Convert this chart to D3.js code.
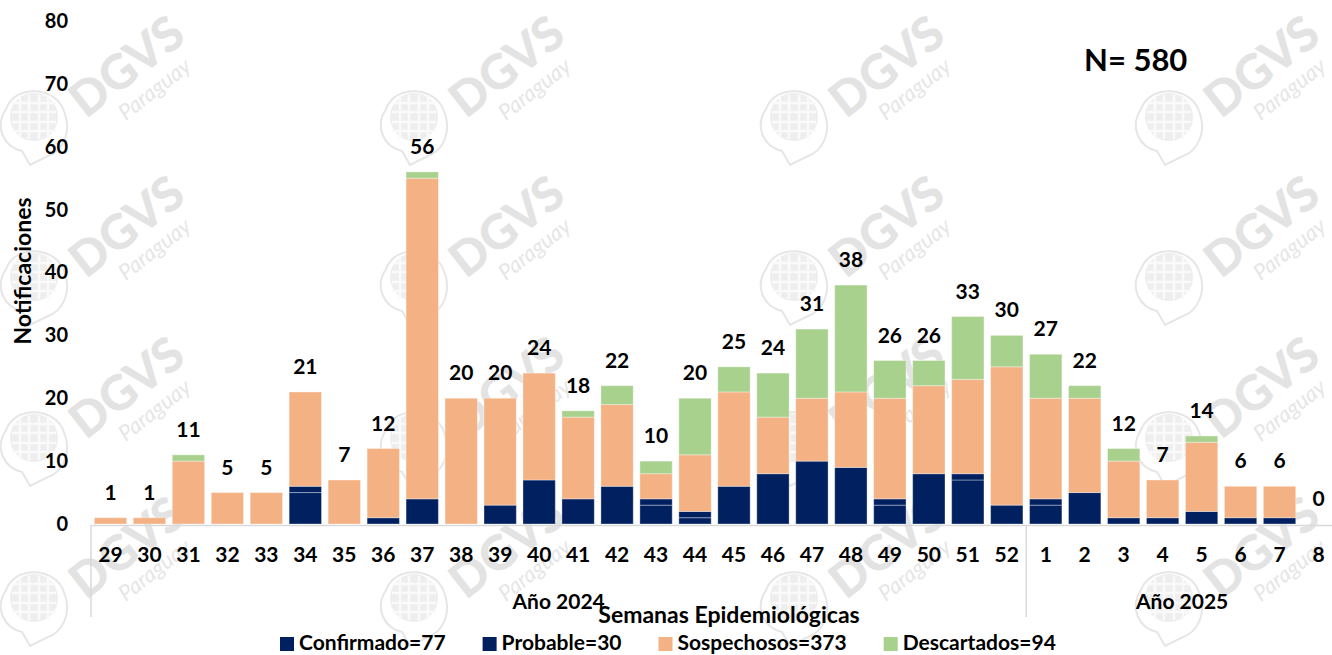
<!DOCTYPE html>
<html lang="es">
<head>
<meta charset="utf-8">
<title>Notificaciones por semana epidemiológica</title>
<script src="https://d3js.org/d3.v7.min.js"></script>
<style>
  html, body { margin: 0; padding: 0; background: #fff; }
  svg text { font-family: Lato, "Open Sans", sans-serif; font-weight: bold; fill: #000; }
</style>
</head>
<body>
<div id="chart"></div>
<script>
// weeks (2024: 29-52, 2025: 1-8)
var weeks = ["29","30","31","32","33","34","35","36","37","38","39","40","41","42","43","44",
             "45","46","47","48","49","50","51","52","1","2","3","4","5","6","7","8"];

// values
var confirmado  = [0,0,0,0,0,5,0,1,4,0,3,7,4,6,3,1,6,8,0,0,3,8,7,3,3,0,1,1,2,1,1,0];
var probable    = [0,0,0,0,0,1,0,0,0,0,0,0,0,0,1,1,0,0,10,9,1,0,1,0,1,5,0,0,0,0,0,0];
var sospechosos = [1,1,10,5,5,15,7,11,51,20,17,17,13,13,4,9,15,9,10,12,16,14,15,22,16,15,9,6,11,5,5,0];
var descartados = [0,0,1,0,0,0,0,0,1,0,0,0,1,3,2,9,4,7,11,17,6,4,10,5,7,2,2,0,1,0,0,0];

var seriesNames  = ["Confirmado", "Probable", "Sospechosos", "Descartados"];
var legendCounts = [77, 30, 373, 94];
var seriesColors = ["#002060", "#002060", "#F4B183", "#A9D18E"];

var yTicks = [0, 10, 20, 30, 40, 50, 60, 70, 80];
var years = ["Año 2024", "Año 2025"];
var yearFirst = ["29", "1"];
var yearLast = ["52", "8"];

var W = 1332, H = 655;

var svg = d3.select("#chart").append("svg")
    .attr("width", W)
    .attr("height", H);

// scales
var x = d3.scaleBand()
    .domain(weeks)
    .range([91, 1338])
    .paddingInner(0.17)
    .paddingOuter(0.085);

var y = d3.scaleLinear()
    .domain([0, 80])
    .range([524, 21]);

// watermark tiles (DGVS Paraguay), drawn behind everything
var wm = svg.append("g").attr("class", "watermark");
var wmCols = [127, 507, 887, 1262];
var wmRows = [67, 227, 388, 548];
wmRows.forEach(function(cy) {
  wmCols.forEach(function(cx) {
    var t = wm.append("g").attr("transform", "translate(" + cx + "," + cy + ")");
    // globe
    var gl = t.append("g").attr("transform", "translate(-93,50)");
    gl.append("path")
      .attr("d", "M-28,-8 C-40,10 -30,30 -12,34 L-4,48 L12,40 C30,34 38,14 30,-6 C22,-30 -18,-34 -28,-8 Z")
      .attr("fill", "none").attr("stroke", "#e6e6e6").attr("stroke-width", 2);
    gl.append("circle").attr("r", 24).attr("fill", "#eeeeee");
    [-14, -5, 5, 14].forEach(function(o) {
      gl.append("line").attr("x1", o).attr("x2", o).attr("y1", -22).attr("y2", 22)
        .attr("stroke", "#fafafa").attr("stroke-width", 2.5);
      gl.append("line").attr("y1", o).attr("y2", o).attr("x1", -22).attr("x2", 22)
        .attr("stroke", "#fafafa").attr("stroke-width", 2.5);
    });
    var tx = t.append("g").attr("transform", "rotate(-38)");
    tx.append("text")
      .attr("text-anchor", "middle")
      .attr("y", 16)
      .style("font-size", "48px")
      .style("font-weight", "900")
      .style("fill", "#e3e3e3")
      .text("DGVS");
    tx.append("text")
      .attr("text-anchor", "middle")
      .attr("x", 8)
      .attr("y", 42)
      .style("font-size", "22px")
      .style("font-weight", "normal")
      .style("font-style", "italic")
      .style("fill", "#e6e6e6")
      .text("Paraguay");
  });
});

// y axis (labels only)
var yAxis = svg.append("g")
    .attr("transform", "translate(68,0)")
    .call(d3.axisLeft(y).tickValues(yTicks).tickSize(0).tickPadding(0));
yAxis.select(".domain").remove();
yAxis.selectAll("text").style("font-size", "20px").style("font-family", "Lato, sans-serif");

// y axis title
svg.append("text")
    .attr("transform", "translate(22,271) rotate(-90)")
    .attr("text-anchor", "middle")
    .attr("dominant-baseline", "central")
    .style("font-size", "23px")
    .text("Notificaciones");

// stacked data
var rows = weeks.map(function(w, i) {
  return { week: w, Confirmado: confirmado[i], Probable: probable[i],
           Sospechosos: sospechosos[i], Descartados: descartados[i] };
});
var stacked = d3.stack().keys(seriesNames)(rows);

svg.append("g").selectAll("g")
  .data(stacked)
  .enter().append("g")
    .attr("fill", function(d, i) { return seriesColors[i]; })
  .selectAll("rect")
  .data(function(d) { return d; })
  .enter().append("rect")
    .filter(function(d) { return d[1] > d[0]; })
    .attr("x", function(d) { return x(d.data.week); })
    .attr("y", function(d) { return y(d[1]); })
    .attr("width", x.bandwidth())
    .attr("height", function(d) { return y(d[0]) - y(d[1]); })
    .attr("stroke", "rgba(255,255,255,0.35)")
    .attr("stroke-width", 1);

// x axis
var xAxis = svg.append("g")
    .attr("transform", "translate(0,525)")
    .call(d3.axisBottom(x).tickSize(0).tickSizeOuter(0).tickPadding(22));
xAxis.select(".domain").attr("stroke", "#d9d9d9").attr("stroke-width", 1.5);
xAxis.selectAll("text").style("font-size", "21px").style("font-family", "Lato, sans-serif");

// year separators and labels
var halfPad = x.step() * x.paddingInner() / 2;
function bandLeft(w) { return x(w) - halfPad; }
function bandRight(w) { return x(w) + x.bandwidth() + halfPad; }

years.forEach(function(label, i) {
  var x0 = bandLeft(yearFirst[i]), x1 = bandRight(yearLast[i]);
  svg.append("line")
    .attr("x1", x0).attr("x2", x0)
    .attr("y1", 525).attr("y2", 617)
    .attr("stroke", "#d9d9d9").attr("stroke-width", 1.5);
  svg.append("text")
    .attr("x", (x0 + x1) / 2)
    .attr("y", 609)
    .attr("text-anchor", "middle")
    .style("font-size", "21px")
    .text(label);
});

// totals above bars
svg.append("g").selectAll("text")
  .data(rows)
  .enter().append("text")
    .attr("x", function(d) { return x(d.week) + x.bandwidth() / 2; })
    .attr("y", function(d) {
      return y(d.Confirmado + d.Probable + d.Sospechosos + d.Descartados) - 18;
    })
    .attr("text-anchor", "middle")
    .style("font-size", "21px")
    .text(function(d) { return d.Confirmado + d.Probable + d.Sospechosos + d.Descartados; });

// x axis title
svg.append("text")
    .attr("x", 729)
    .attr("y", 623)
    .attr("text-anchor", "middle")
    .style("font-size", "23px")
    .text("Semanas Epidemiológicas");

// N total
svg.append("text")
    .attr("x", 1084)
    .attr("y", 71)
    .style("font-size", "31px")
    .text("N= " + d3.sum(rows, function(d) {
      return d.Confirmado + d.Probable + d.Sospechosos + d.Descartados;
    }));

// legend
var legend = svg.append("g");
var lx = 280;
seriesNames.forEach(function(name, i) {
  legend.append("rect")
    .attr("x", lx).attr("y", 637)
    .attr("width", 14).attr("height", 14)
    .attr("fill", seriesColors[i]);
  var t = legend.append("text")
    .attr("x", lx + 19)
    .attr("y", 650)
    .style("font-size", "21px")
    .text(name + "=" + legendCounts[i]);
  lx = lx + 19 + t.node().getComputedTextLength() + 37;
});
</script>
</body>
</html>
